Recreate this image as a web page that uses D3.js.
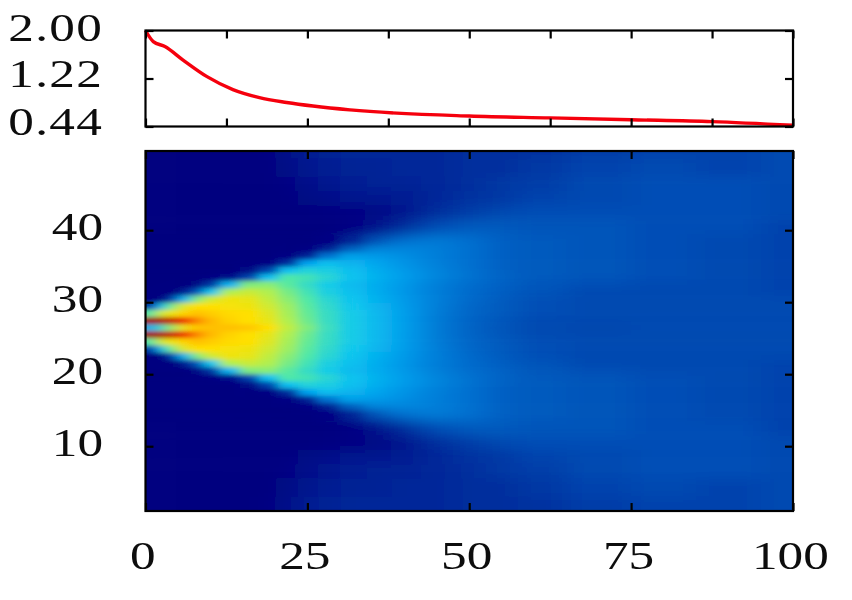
<!DOCTYPE html>
<html>
<head>
<meta charset="utf-8">
<script src="https://cdn.jsdelivr.net/npm/d3@7"></script>
<style>
  html, body { margin: 0; padding: 0; background: #fff; }
  .tick text { font-family: "Liberation Serif", serif; font-size: 41px; fill: #111; }
</style>
</head>
<body>
<svg id="chart" width="852" height="600"></svg>
<script>
// top panel curve
const curveX = [0, 1.2, 3, 5.8, 9.5, 13.5, 17.6, 21.8, 31.6, 50, 62.5, 75, 87.5, 100];
const curveY = [2.0, 1.82, 1.74, 1.52, 1.25, 1.04, 0.91, 0.83, 0.71, 0.61, 0.58, 0.55, 0.52, 0.46];

// heatmap samples: columns in x, rows as distance from the centre line (the map is mirrored)
const colX = [1, 2, 3, 4, 6, 8, 10, 13, 16, 19, 22, 25, 28, 32, 36, 40, 45, 50, 55, 60, 70, 80, 90, 100];
const rowD = [0, 1, 2, 3, 4, 5, 6, 7, 8, 9, 10, 11, 12, 14, 16, 18, 20, 22, 25];
const heat = [
  [.35,.42,.52,.58,.68,.74,.75,.75,.74,.70,.62,.55,.47,.41,.36,.29,.22,.17,.15,.13,.12,.13,.13,.13],
  [1,1,.97,.95,.90,.82,.76,.72,.70,.67,.60,.53,.46,.41,.36,.29,.22,.18,.15,.13,.13,.13,.13,.13],
  [.50,.62,.66,.68,.72,.75,.73,.71,.70,.66,.59,.52,.46,.41,.36,.29,.22,.18,.16,.14,.13,.13,.13,.13],
  [.10,.30,.45,.55,.66,.70,.70,.69,.68,.64,.58,.51,.45,.40,.35,.29,.23,.18,.16,.14,.13,.13,.13,.13],
  [0,0,.03,.12,.35,.55,.64,.68,.67,.62,.56,.50,.44,.39,.34,.28,.23,.19,.16,.14,.13,.13,.13,.13],
  [0,0,0,0,.05,.15,.40,.60,.63,.60,.54,.48,.42,.38,.33,.28,.23,.19,.17,.15,.13,.13,.13,.12],
  [0,0,0,0,0,.02,.10,.35,.55,.56,.51,.46,.41,.36,.32,.27,.22,.19,.17,.15,.14,.13,.13,.12],
  [0,0,0,0,0,0,.01,.03,.12,.38,.50,.48,.44,.39,.35,.30,.25,.21,.18,.16,.15,.14,.13,.12],
  [0,0,0,0,0,0,0,0,.02,.12,.38,.43,.42,.38,.33,.28,.24,.20,.17,.16,.15,.14,.13,.12],
  [0,0,0,0,0,0,0,0,0,.01,.08,.30,.38,.35,.31,.27,.23,.20,.17,.16,.15,.14,.13,.12],
  [0,0,0,0,0,0,0,0,0,0,.01,.06,.20,.31,.29,.26,.23,.20,.17,.16,.15,.14,.13,.12],
  [0,0,0,0,0,0,0,0,0,0,0,.01,.05,.16,.25,.25,.23,.20,.17,.16,.15,.14,.13,.12],
  [0,0,0,0,0,0,0,0,0,0,0,0,.01,.05,.14,.20,.22,.20,.17,.16,.15,.14,.13,.12],
  [0,0,0,0,0,0,0,0,0,0,0,0,0,.01,.03,.08,.14,.16,.16,.15,.15,.14,.14,.12],
  [0,0,0,0,0,0,0,0,0,0,0,0,.005,.01,.02,.04,.08,.11,.13,.14,.14,.14,.14,.13],
  [0,0,0,0,0,0,0,0,0,0,.005,.015,.03,.04,.04,.05,.07,.09,.10,.12,.13,.14,.14,.13],
  [0,0,0,0,0,0,0,0,0,0,.01,.03,.04,.05,.06,.06,.07,.08,.10,.11,.13,.14,.14,.13],
  [0,0,0,0,0,0,0,0,0,0,.02,.04,.05,.06,.06,.07,.07,.08,.08,.10,.12,.13,.12,.13],
  [0,0,0,0,0,0,0,0,0,.005,.03,.05,.06,.07,.07,.07,.07,.08,.08,.09,.11,.12,.12,.13]
];

const xTicks = [0, 25, 50, 75, 100];
const xMinorTicks = [0, 12.5, 25, 37.5, 50, 62.5, 75, 87.5, 100];
const yTicks = [10, 20, 30, 40];
const topTicks = [0.44, 1.22, 2.0];

const paletteStops = [0, .1, .2, .3, .4, .5, .6, .7, .8, .9, 1];
const paletteColours = ['#00007f', '#0038a4', '#0070d0', '#00a0ee', '#10c8f0', '#50e8a8', '#b0f050', '#ffe000', '#ffa000', '#f02000', '#a00000'];

const svg = d3.select('#chart');
const left = 145.5, right = 793;
const xScale = d3.scaleLinear().domain([0, 100]).range([left, right]);
const yScale = d3.scaleLinear().domain([1, 51]).range([511, 151]);
const yTop = d3.scaleLinear().domain([0.44, 2.0]).range([126.5, 30.5]);
const colour = d3.scaleLinear().domain(paletteStops).range(paletteColours);

const centre = 26.5;

// cell edges sit half way between the sample columns / rows.
// the outer cells run past the panel (clipped) so the blur does not fade at the frame
const colEdges = [-20].concat(d3.pairs(colX).map(p => (p[0] + p[1]) / 2), [120]);
const rowEdges = [0].concat(d3.pairs(rowD).map(p => (p[0] + p[1]) / 2), [40]);

const cells = [];
heat.forEach((row, r) => row.forEach((v, c) => {
  const x0 = colEdges[c], x1 = colEdges[c + 1];
  const d0 = rowEdges[r], d1 = rowEdges[r + 1];
  cells.push({ x0, x1, d0, y0: centre + d0, y1: centre + d1, v });
  cells.push({ x0, x1, d0, y0: centre - d1, y1: centre - d0, v });
}));

const defs = svg.append('defs');
defs.append('clipPath').attr('id', 'mapClip').append('rect')
  .attr('x', left).attr('y', 151).attr('width', right - left).attr('height', 360);

const addBlur = (id, amount) => defs.append('filter').attr('id', id)
  .attr('filterUnits', 'userSpaceOnUse')
  .attr('x', 0).attr('y', 0).attr('width', 852).attr('height', 600)
  .append('feGaussianBlur').attr('stdDeviation', amount);
addBlur('fine', '6 2.1');   // flame, where the columns are close together
addBlur('wide', '14 6');    // everything else, where samples are far apart
addBlur('soft', '0.55');

// the fine layer fades out towards the right so the two blurs join up
const grad = defs.append('linearGradient').attr('id', 'fadeGrad')
  .attr('gradientUnits', 'userSpaceOnUse')
  .attr('x1', xScale(26)).attr('x2', xScale(38)).attr('y1', 0).attr('y2', 0);
grad.append('stop').attr('offset', 0).attr('stop-color', '#fff');
grad.append('stop').attr('offset', 1).attr('stop-color', '#000');
defs.append('mask').attr('id', 'fade')
  .attr('maskUnits', 'userSpaceOnUse')
  .attr('x', 0).attr('y', 0).attr('width', 852).attr('height', 600)
  .append('rect').attr('width', 852).attr('height', 600).attr('fill', 'url(#fadeGrad)');

const drawCells = (g, subset) => g.selectAll('rect').data(subset).enter().append('rect')
  .attr('x', d => xScale(d.x0))
  .attr('y', d => yScale(d.y1))
  .attr('width', d => xScale(d.x1) - xScale(d.x0) + 0.5)
  .attr('height', d => yScale(d.y0) - yScale(d.y1) + 0.5)
  .attr('fill', d => colour(d.v));

const root = svg.append('g').attr('filter', 'url(#soft)');

const map = root.append('g').attr('clip-path', 'url(#mapClip)');
map.append('g').attr('filter', 'url(#wide)').call(drawCells, cells);
map.append('g').attr('mask', 'url(#fade)')
  .append('g').attr('filter', 'url(#fine)').call(drawCells, cells.filter(d => d.x0 < 50 && d.d0 < 12.5));

// top panel curve
const line = d3.line().x(d => xScale(d[0])).y(d => yTop(d[1])).curve(d3.curveMonotoneX);
root.append('path')
  .datum(d3.zip(curveX, curveY))
  .attr('d', line)
  .attr('fill', 'none')
  .attr('stroke', '#f5000c')
  .attr('stroke-width', 3.4);

const frame = (top, bottom) => root.append('rect')
  .attr('x', left).attr('y', top)
  .attr('width', right - left).attr('height', bottom - top)
  .attr('fill', 'none').attr('stroke', '#000').attr('stroke-width', 2.2);
frame(30.5, 126.5);
frame(151, 511);

const styleAxis = g => {
  g.select('.domain').remove();
  g.selectAll('.tick line').attr('stroke', '#000').attr('stroke-width', 2.2);
};
const stretch = text => text.attr('transform', 'scale(1.25,1)');

// main panel axes
root.append('g').attr('transform', 'translate(0,511)')
  .call(d3.axisBottom(xScale).tickValues(xTicks).tickSize(-8).tickPadding(29))
  .call(styleAxis)
  .selectAll('text').attr('x', -2.5).call(stretch);
root.append('g').attr('transform', 'translate(0,151)')
  .call(d3.axisTop(xScale).tickValues(xTicks).tickSize(-8).tickFormat(''))
  .call(styleAxis);
root.append('g').attr('transform', `translate(${left},0)`)
  .call(d3.axisLeft(yScale).tickValues(yTicks).tickSize(-8).tickPadding(34))
  .call(styleAxis)
  .selectAll('text').attr('dy', '.22em').call(stretch);
root.append('g').attr('transform', `translate(${right},0)`)
  .call(d3.axisRight(yScale).tickValues(yTicks).tickSize(-8).tickFormat(''))
  .call(styleAxis);

// top panel axes
root.append('g').attr('transform', 'translate(0,126.5)')
  .call(d3.axisBottom(xScale).tickValues(xMinorTicks).tickSize(-8).tickFormat(''))
  .call(styleAxis);
root.append('g').attr('transform', 'translate(0,30.5)')
  .call(d3.axisTop(xScale).tickValues(xMinorTicks).tickSize(-8).tickFormat(''))
  .call(styleAxis);
root.append('g').attr('transform', `translate(${left},0)`)
  .call(d3.axisLeft(yTop).tickValues(topTicks).tickSize(-8).tickPadding(34).tickFormat(d3.format('.2f')))
  .call(styleAxis)
  .selectAll('text').attr('dy', d => d === 2 ? '.25em' : '.2em').style('letter-spacing', '1px').call(stretch);
root.append('g').attr('transform', `translate(${right},0)`)
  .call(d3.axisRight(yTop).tickValues(topTicks).tickSize(-8).tickFormat(''))
  .call(styleAxis);
</script>
</body>
</html>
